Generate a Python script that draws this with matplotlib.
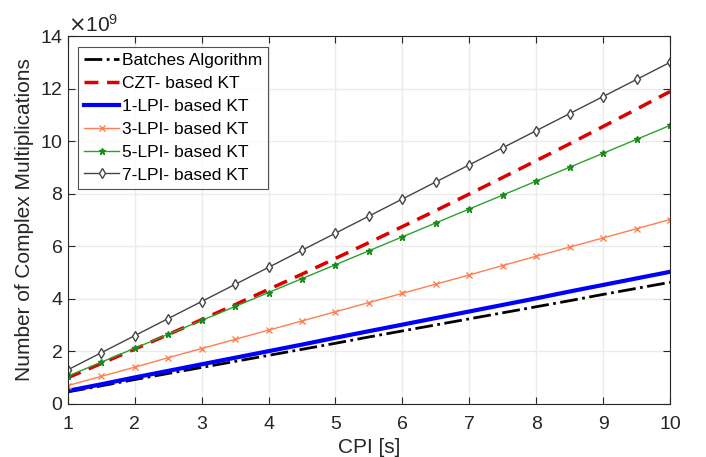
import matplotlib
matplotlib.use('Agg')
import matplotlib.pyplot as plt
from matplotlib.ticker import ScalarFormatter

plt.rcParams['font.family'] = ['Liberation Sans', 'DejaVu Sans']

# CPI values [s]
cpi = [1, 1.5, 2, 2.5, 3, 3.5, 4, 4.5, 5, 5.5, 6, 6.5, 7, 7.5, 8, 8.5, 9, 9.5, 10]

# number of complex multiplications, in units of 1e9
batches = [0.46, 0.69, 0.93, 1.16, 1.39, 1.62, 1.85, 2.08, 2.31, 2.55,
           2.78, 3.01, 3.24, 3.47, 3.70, 3.93, 4.17, 4.40, 4.63]
czt = [1.00, 1.54, 2.09, 2.64, 3.21, 3.78, 4.36, 4.94, 5.54, 6.14,
       6.75, 7.36, 7.99, 8.62, 9.26, 9.90, 10.56, 11.22, 11.89]
lpi1 = [0.50, 0.75, 1.01, 1.26, 1.51, 1.76, 2.01, 2.26, 2.52, 2.77,
        3.02, 3.27, 3.52, 3.77, 4.02, 4.28, 4.53, 4.78, 5.03]
lpi3 = [0.70, 1.05, 1.40, 1.76, 2.11, 2.46, 2.81, 3.16, 3.51, 3.86,
        4.21, 4.56, 4.91, 5.27, 5.62, 5.97, 6.32, 6.67, 7.02]
lpi5 = [1.06, 1.59, 2.12, 2.65, 3.18, 3.71, 4.24, 4.77, 5.30, 5.83,
        6.36, 6.89, 7.42, 7.95, 8.48, 9.01, 9.54, 10.07, 10.60]
lpi7 = [1.30, 1.95, 2.60, 3.25, 3.90, 4.55, 5.20, 5.85, 6.50, 7.15,
        7.80, 8.45, 9.10, 9.75, 10.40, 11.05, 11.70, 12.35, 13.00]

labels = ['Batches Algorithm', 'CZT- based KT', '1-LPI- based KT',
          '3-LPI- based KT', '5-LPI- based KT', '7-LPI- based KT']

scale = 1e9

fig = plt.figure(figsize=(7.06, 4.57), dpi=100)
ax = fig.add_axes([0.096, 0.116, 0.853, 0.805])

ax.plot(cpi, [v * scale for v in batches], color='black', ls='-.', lw=2, label=labels[0])
ax.plot(cpi, [v * scale for v in czt], color='#dd0000', ls=(0, (4, 2.5)), lw=2.5, label=labels[1])
ax.plot(cpi, [v * scale for v in lpi1], color='#0000ff', lw=3, label=labels[2])
ax.plot(cpi, [v * scale for v in lpi3], color='#ff7f50', lw=1, marker='x', ms=4, label=labels[3])
ax.plot(cpi, [v * scale for v in lpi5], color='#2ca02c', lw=1, marker='*', ms=5,
        mfc='#1a8a1a', mec='#1a8a1a', label=labels[4])
ax.plot(cpi, [v * scale for v in lpi7], color='#444444', lw=1, marker='d', ms=5,
        mfc='white', mec='#444444', label=labels[5])

ax.set_xlim(1, 10)
ax.set_ylim(0, 14e9)
ax.set_xticks(range(1, 11))
ax.set_yticks([i * 1e9 for i in range(0, 15, 2)])

fmt = ScalarFormatter(useMathText=True)
fmt.set_powerlimits((9, 9))
ax.yaxis.set_major_formatter(fmt)
ax.yaxis.get_offset_text().set_fontsize(15)
ax.yaxis.get_offset_text().set_color('#262626')

ax.grid(True, color='#ebebeb', lw=1)
ax.set_axisbelow(True)
ax.tick_params(direction='in', labelsize=14, colors='#262626', length=5, top=True, right=True,
               labelcolor='#262626')
ax.tick_params(axis='x', pad=9)
for s in ax.spines.values():
    s.set_color('#262626')
    s.set_linewidth(0.8)

ax.set_xlabel('CPI [s]', fontsize=15, color='#262626', labelpad=3)
ax.set_ylabel('Number of Complex Multiplications', fontsize=15, color='#262626', labelpad=4)

leg = ax.legend(loc='upper left', fontsize=12.5, handlelength=2.0, labelspacing=0.45,
                fancybox=False, edgecolor='#262626', borderaxespad=0.6, handletextpad=0.15,
                borderpad=0.35, numpoints=1)
leg.get_frame().set_linewidth(0.8)

fig.savefig('out.png', dpi=100)
